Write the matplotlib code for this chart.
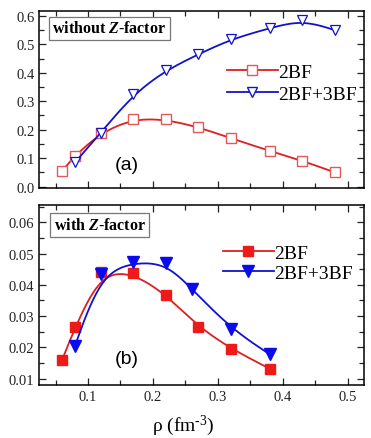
import numpy as np
import matplotlib
matplotlib.use('Agg')
import matplotlib.pyplot as plt
from matplotlib.ticker import MultipleLocator

plt.rcParams['font.family'] = 'Liberation Serif'
plt.rcParams['mathtext.fontset'] = 'custom'
plt.rcParams['mathtext.rm'] = 'Liberation Serif'
plt.rcParams['mathtext.it'] = 'Liberation Serif:italic'
plt.rcParams['mathtext.bf'] = 'Liberation Serif:bold'
plt.rcParams['mathtext.bfit'] = 'Liberation Serif:italic:bold'

# panel (a): without Z-factor
rho_a_2bf = [0.06, 0.08, 0.12, 0.17, 0.22, 0.27, 0.32, 0.38, 0.43, 0.48]
val_a_2bf = [0.055, 0.109, 0.19, 0.239, 0.236, 0.209, 0.170, 0.125, 0.091, 0.050]
rho_a_3bf = [0.08, 0.12, 0.17, 0.22, 0.27, 0.32, 0.38, 0.43, 0.48]
val_a_3bf = [0.085, 0.19, 0.325, 0.409, 0.465, 0.518, 0.557, 0.586, 0.550]

# panel (b): with Z-factor
rho_b_2bf = [0.06, 0.08, 0.12, 0.17, 0.22, 0.27, 0.32, 0.38]
val_b_2bf = [0.0160, 0.0264, 0.0440, 0.0438, 0.0369, 0.0266, 0.0196, 0.0132]
rho_b_3bf = [0.08, 0.12, 0.17, 0.22, 0.26, 0.32, 0.38]
val_b_3bf = [0.0206, 0.0435, 0.0472, 0.0469, 0.0387, 0.0260, 0.0178]

labels = ['2BF', '2BF+3BF']
red = '#dd1f1f'
blue = '#1212cc'


def bspline(x, y, n=40):
    # clamped uniform cubic B-spline with the data points as control points
    # (the "B-spline" connect style of the original plot)
    P = np.column_stack([x, y]).astype(float)
    P = np.vstack([P[:1], P[:1], P, P[-1:], P[-1:]])
    t = np.linspace(0, 1, n)[:, None]
    b0 = (1 - t)**3 / 6
    b1 = (3 * t**3 - 6 * t**2 + 4) / 6
    b2 = (-3 * t**3 + 3 * t**2 + 3 * t + 1) / 6
    b3 = t**3 / 6
    segs = []
    for i in range(len(P) - 3):
        segs.append(b0 * P[i] + b1 * P[i + 1] + b2 * P[i + 2] + b3 * P[i + 3])
    c = np.vstack(segs)
    return c[:, 0], c[:, 1]


fig = plt.figure(figsize=(3.71, 4.39), dpi=100)
ax1 = fig.add_axes([0.106, 0.5695, 0.875, 0.403])
ax2 = fig.add_axes([0.106, 0.1207, 0.875, 0.41])

for ax in (ax1, ax2):
    ax.set_xlim(0.025, 0.525)
    ax.xaxis.set_major_locator(MultipleLocator(0.1))
    ax.xaxis.set_minor_locator(MultipleLocator(0.05))
    ax.tick_params(which='both', direction='in', top=True, right=True,
                   width=0.9, labelsize=10.5, colors='#222222')
    ax.tick_params(which='major', length=5)
    ax.tick_params(which='minor', length=3.5)
    for s in ax.spines.values():
        s.set_linewidth(1.1)

# (a)
xs, ys = bspline(rho_a_2bf, val_a_2bf)
ax1.plot(xs, ys, color=red, lw=1.3)
ax1.plot(rho_a_2bf, val_a_2bf, ls='none', marker='s', ms=6.5, mfc='white',
         mec='#e05a5a', mew=1.0)
xs, ys = bspline(rho_a_3bf, val_a_3bf)
ax1.plot(xs, ys, color=blue, lw=1.3)
ax1.plot(rho_a_3bf, val_a_3bf, ls='none', marker='v', ms=7.5, mfc='white',
         mec=blue, mew=0.9)
h1 = [ax1.plot([], [], color=red, lw=1.3, marker='s', ms=6.5, mfc='white', mec='#e05a5a')[0],
      ax1.plot([], [], color=blue, lw=1.3, marker='v', ms=7.5, mfc='white', mec=blue)[0]]
ax1.legend(h1, labels, loc='upper left', bbox_to_anchor=(0.578, 0.703), frameon=False,
           fontsize=14, handlelength=2.6, handletextpad=0.05, borderpad=0,
           borderaxespad=0, labelspacing=0.2)
ax1.set_ylim(-0.005, 0.617)
ax1.yaxis.set_major_locator(MultipleLocator(0.1))
ax1.yaxis.set_minor_locator(MultipleLocator(0.05))
ax1.tick_params(axis='x', labelbottom=False)
ax1.text(0.04, 0.902, r'without $\mathbfit{Z}$-factor', transform=ax1.transAxes,
         fontsize=11.5, fontweight='bold', va='center', ha='left',
         bbox=dict(boxstyle='square,pad=0.22', fc='white', ec='#777777', lw=0.9))
ax1.text(0.27, 0.13, '(a)', transform=ax1.transAxes, fontsize=14,
         family='Liberation Sans', ha='center', va='center')

# (b)
xs, ys = bspline(rho_b_2bf, val_b_2bf)
ax2.plot(xs, ys, color=red, lw=1.3)
ax2.plot(rho_b_2bf, val_b_2bf, ls='none', marker='s', ms=6.5, color='#ee1a1a')
xs, ys = bspline(rho_b_3bf, val_b_3bf)
ax2.plot(xs, ys, color=blue, lw=1.3)
ax2.plot(rho_b_3bf, val_b_3bf, ls='none', marker='v', ms=8, color='#0a0aee')
h2 = [ax2.plot([], [], color=red, lw=1.3, marker='s', ms=6.5, mfc='#ee1a1a', mec='#ee1a1a')[0],
      ax2.plot([], [], color=blue, lw=1.3, marker='v', ms=8, mfc='#0a0aee', mec='#0a0aee')[0]]
ax2.legend(h2, labels, loc='upper left', bbox_to_anchor=(0.566, 0.78), frameon=False,
           fontsize=14, handlelength=2.6, handletextpad=0.05, borderpad=0,
           borderaxespad=0, labelspacing=0.1)
ax2.set_ylim(0.008, 0.0655)
ax2.yaxis.set_major_locator(MultipleLocator(0.01))
ax2.yaxis.set_minor_locator(MultipleLocator(0.005))
ax2.xaxis.set_major_formatter(plt.FuncFormatter(lambda v, p: '%.1f' % v))
ax2.text(0.045, 0.889, r'with $\mathbfit{Z}$-factor', transform=ax2.transAxes,
         fontsize=11.5, fontweight='bold', va='center', ha='left',
         bbox=dict(boxstyle='square,pad=0.22', fc='white', ec='#777777', lw=0.9))
ax2.text(0.27, 0.145, '(b)', transform=ax2.transAxes, fontsize=14,
         family='Liberation Sans', ha='center', va='center')
ax2.set_xlabel(r'ρ (fm$^{\text{-}3}$)', fontsize=14)
ax2.xaxis.set_label_coords(0.4425, -0.155)

fig.savefig('out.png', dpi=100)
